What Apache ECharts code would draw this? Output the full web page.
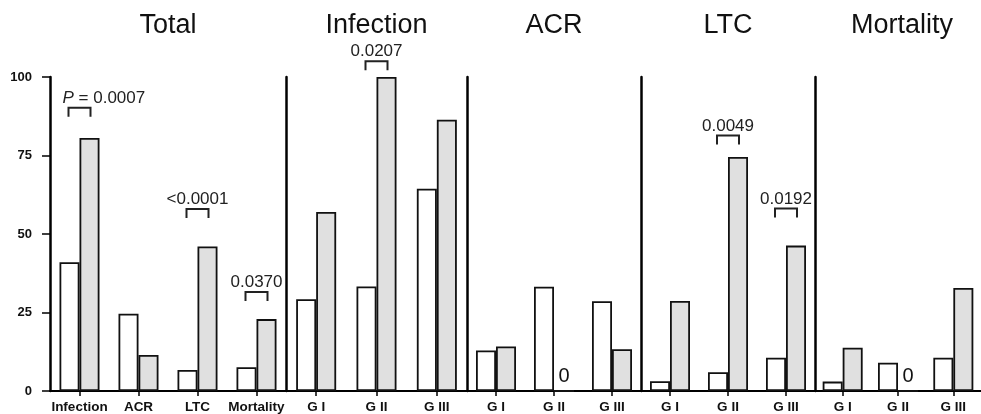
<!DOCTYPE html>
<html>
<head>
<meta charset="utf-8">
<script src="https://cdn.jsdelivr.net/npm/echarts@6/dist/echarts.min.js"></script>
<style>html,body{margin:0;padding:0;background:#fff}#c{width:981px;height:414px}</style>
</head>
<body>
<div id="c"></div>
<script>
// ---- data ----
const panelTitles = ['Total', 'Infection', 'ACR', 'LTC', 'Mortality'];
const totalCats = ['Infection', 'ACR', 'LTC', 'Mortality'];
const gradeCats = ['G I', 'G II', 'G III'];
const yTicks = [0, 25, 50, 75, 100];

const totalWhite = [41.0, 24.6, 6.7, 7.6];
const totalGrey = [80.6, 11.5, 46.0, 22.9];
const infectionWhite = [29.2, 33.3, 64.4];
const infectionGrey = [57.0, 100, 86.4];
const acrWhite = [12.9, 33.2, 28.6];
const acrGrey = [14.2, 0, 13.3];
const ltcWhite = [3.1, 6.0, 10.6];
const ltcGrey = [28.7, 74.5, 46.3];
const mortWhite = [3.0, 9.0, 10.6];
const mortGrey = [13.8, 0, 32.8];

// p-value brackets: [category index, bracket level, label]
const totalPvals = [[0, 90.2, 'P = 0.0007'], [2, 58.0, '<0.0001'], [3, 31.5, '0.0370']];
const infectionPvals = [[1, 105.0, '0.0207']];
const ltcPvals = [[1, 81.4, '0.0049'], [2, 58.1, '0.0192']];

// ---- layout ----
const gridBoxes = [
  {left: 50, width: 236},
  {left: 286, width: 181},
  {left: 467, width: 174},
  {left: 641, width: 174},
  {left: 815, width: 174}
];
const TOP = 77, HEIGHT = 314;
const panels = [
  {cats: totalCats, white: totalWhite, grey: totalGrey, pvals: totalPvals},
  {cats: gradeCats, white: infectionWhite, grey: infectionGrey, pvals: infectionPvals},
  {cats: gradeCats, white: acrWhite, grey: acrGrey, pvals: []},
  {cats: gradeCats, white: ltcWhite, grey: ltcGrey, pvals: ltcPvals},
  {cats: gradeCats, white: mortWhite, grey: mortGrey, pvals: []}
];
const FONT = 'Liberation Sans, Arial, sans-serif';
const GREY = '#e0e0e0';

const grid = [], xAxis = [], yAxis = [], series = [], title = [];
panels.forEach((p, i) => {
  const g = gridBoxes[i];
  grid.push({left: g.left, width: g.width, top: TOP, height: HEIGHT, containLabel: false});
  title.push({
    text: panelTitles[i], left: g.left + g.width / 2, top: 12, textAlign: 'center', padding: 0,
    textStyle: {fontFamily: FONT, fontWeight: 'normal', fontSize: 27, color: '#111'}
  });
  xAxis.push({
    type: 'category', gridIndex: i, data: p.cats,
    axisLine: {show: true, lineStyle: {color: '#000', width: 2}},
    axisTick: {show: true, alignWithLabel: true, length: 5, lineStyle: {color: '#000', width: 1.5}},
    axisLabel: {fontFamily: FONT, fontWeight: 'bold', fontSize: 13.5, color: '#111', margin: 9, interval: 0}
  });
  yAxis.push({
    type: 'value', gridIndex: i, min: 0, max: 100, interval: 25,
    splitLine: {show: false},
    axisLine: {show: true, lineStyle: {color: '#000', width: 2.5}},
    axisTick: {show: i === 0, length: 8, lineStyle: {color: '#000', width: 1.5}},
    axisLabel: {show: i === 0, fontFamily: FONT, fontWeight: 'bold', fontSize: 13, color: '#111', margin: 18,
      formatter: v => yTicks.includes(v) ? String(v) : ''}
  });
  const zeroLabel = {show: true, position: 'top', distance: 4, fontFamily: FONT, fontSize: 20, color: '#111', formatter: '0'};
  series.push({
    type: 'bar', xAxisIndex: i, yAxisIndex: i, barWidth: 20, barGap: '0%',
    data: p.white,
    itemStyle: {color: '#fff', borderColor: '#111', borderWidth: 1.8},
    silent: true, animation: false
  });
  series.push({
    type: 'bar', xAxisIndex: i, yAxisIndex: i, barWidth: 20, barGap: '0%',
    data: p.grey.map(v => v === 0 ? {value: v, label: zeroLabel} : v),
    itemStyle: {color: GREY, borderColor: '#111', borderWidth: 1.8},
    silent: true, animation: false
  });
  if (p.pvals.length) {
    series.push({
      type: 'custom', xAxisIndex: i, yAxisIndex: i, clip: false, animation: false, silent: true,
      data: p.pvals,
      renderItem: (params, api) => {
        const pt = api.coord([api.value(0), api.value(1)]);
        const label = p.pvals[params.dataIndex][2];
        const hw = 11, leg = 9;
        const isP = label.startsWith('P');
        return {
          type: 'group',
          children: [
            {type: 'polyline', shape: {points: [[pt[0] - hw, pt[1] + leg], [pt[0] - hw, pt[1]], [pt[0] + hw, pt[1]], [pt[0] + hw, pt[1] + leg]]},
             style: {stroke: '#222', lineWidth: 2, fill: null}},
            {type: 'text', x: isP ? pt[0] - hw - 6 : pt[0], y: pt[1] - 1,
             style: {
               text: isP ? '{i|P} = ' + label.slice(4) : label,
               rich: {i: {fontStyle: 'italic', fontFamily: FONT, fontSize: 17, fill: '#222', color: '#222'}},
               fontFamily: FONT, fontSize: 17, fill: '#222',
               align: isP ? 'left' : 'center', verticalAlign: 'bottom'
             }}
          ]
        };
      }
    });
  }
});

const chart = echarts.init(document.getElementById('c'), null, {renderer: 'canvas'});
chart.setOption({backgroundColor: '#fff', animation: false, title, grid, xAxis, yAxis, series});
</script>
</body>
</html>
